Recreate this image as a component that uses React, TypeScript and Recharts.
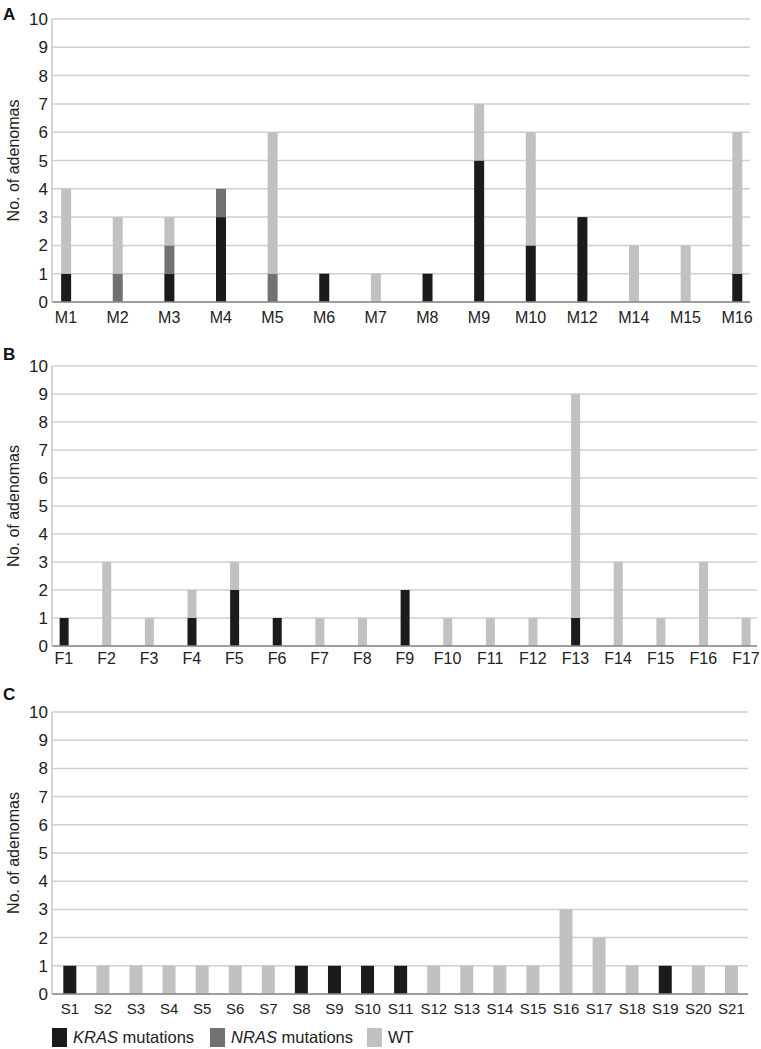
import { BarChart, Bar, XAxis, YAxis, CartesianGrid, Legend } from "recharts";

// panel A – male patients
const MALE_IDS = ["M1", "M2", "M3", "M4", "M5", "M6", "M7", "M8", "M9", "M10", "M12", "M14", "M15", "M16"];
const MALE_KRAS = [1, 0, 1, 3, 0, 1, 0, 1, 5, 2, 3, 0, 0, 1];
const MALE_NRAS = [0, 1, 1, 1, 1, 0, 0, 0, 0, 0, 0, 0, 0, 0];
const MALE_WT = [3, 2, 1, 0, 5, 0, 1, 0, 2, 4, 0, 2, 2, 5];

// panel B – female patients
const FEMALE_IDS = ["F1", "F2", "F3", "F4", "F5", "F6", "F7", "F8", "F9", "F10", "F11", "F12", "F13", "F14", "F15", "F16", "F17"];
const FEMALE_KRAS = [1, 0, 0, 1, 2, 1, 0, 0, 2, 0, 0, 0, 1, 0, 0, 0, 0];
const FEMALE_NRAS = [0, 0, 0, 0, 0, 0, 0, 0, 0, 0, 0, 0, 0, 0, 0, 0, 0];
const FEMALE_WT = [0, 3, 1, 1, 1, 0, 1, 1, 0, 1, 1, 1, 8, 3, 1, 3, 1];

// panel C – sporadic
const SPORADIC_IDS = ["S1", "S2", "S3", "S4", "S5", "S6", "S7", "S8", "S9", "S10", "S11", "S12", "S13", "S14", "S15", "S16", "S17", "S18", "S19", "S20", "S21"];
const SPORADIC_KRAS = [1, 0, 0, 0, 0, 0, 0, 1, 1, 1, 1, 0, 0, 0, 0, 0, 0, 0, 1, 0, 0];
const SPORADIC_NRAS = [0, 0, 0, 0, 0, 0, 0, 0, 0, 0, 0, 0, 0, 0, 0, 0, 0, 0, 0, 0, 0];
const SPORADIC_WT = [0, 1, 1, 1, 1, 1, 1, 0, 0, 0, 0, 1, 1, 1, 1, 3, 2, 1, 0, 1, 1];

const Y_TICKS = [0, 1, 2, 3, 4, 5, 6, 7, 8, 9, 10];

const SERIES = [
  { key: "kras", gene: "KRAS", suffix: " mutations", color: "#1b1b1b" },
  { key: "nras", gene: "NRAS", suffix: " mutations", color: "#717171" },
  { key: "wt", gene: "", suffix: "WT", color: "#c1c1c1" },
];

const FONT = "'Liberation Sans', Arial, Helvetica, sans-serif";
const TEXT = "#222";

function rows(ids: string[], kras: number[], nras: number[], wt: number[]) {
  return ids.map((id, i) => ({ x: i, id, kras: kras[i], nras: nras[i], wt: wt[i] }));
}

function LegendContent() {
  return (
    <div style={{ height: 27, display: "flex", alignItems: "flex-start", paddingTop: 6, boxSizing: "border-box" }}>
      {SERIES.map((s, i) => (
        <div key={s.key} style={{ display: "flex", alignItems: "center", marginRight: i === 0 ? 16 : 14 }}>
          <span style={{ display: "inline-block", width: 15, height: 19, background: s.color, marginRight: 6 }} />
          <span style={{ fontSize: 16.5, color: TEXT, fontFamily: FONT, whiteSpace: "nowrap" }}>
            {s.gene && <i>{s.gene}</i>}
            {s.suffix}
          </span>
        </div>
      ))}
    </div>
  );
}

interface PanelProps {
  letter: string;
  top: number;
  height: number;
  marginTop: number;
  marginRight: number;
  domain: [number, number];
  barSize: number;
  labelGap: number;
  labelSize: number;
  ids: string[];
  data: ReturnType<typeof rows>;
  legend?: boolean;
}

function Panel(p: PanelProps) {
  const ticks = p.ids.map((_, i) => i);
  return (
    <div style={{ position: "absolute", left: 0, top: p.top }}>
      <div
        style={{
          position: "absolute",
          left: 3,
          top: 6,
          fontSize: 17,
          lineHeight: "17px",
          fontWeight: "bold",
          fontFamily: FONT,
          color: "#111",
        }}
      >
        {p.letter}
      </div>
      <BarChart
        width={761}
        height={p.height}
        data={p.data}
        margin={{ top: p.marginTop, right: p.marginRight, bottom: 0, left: 0 }}
        style={{ fontFamily: FONT }}
      >
        <CartesianGrid vertical={false} stroke="#cfcfcf" strokeWidth={1.5} />
        <XAxis
          dataKey="x"
          type="number"
          domain={p.domain}
          ticks={ticks}
          interval={0}
          allowDataOverflow
          tickFormatter={(v: number) => p.ids[v] ?? ""}
          tickLine={false}
          tickSize={0}
          tickMargin={p.labelGap}
          height={28}
          axisLine={{ stroke: "#8a8a8a", strokeWidth: 1.5 }}
          tick={{ fontSize: p.labelSize, fill: TEXT }}
        />
        <YAxis
          domain={[0, 10]}
          ticks={Y_TICKS}
          interval={0}
          width={52}
          tickLine={false}
          tickSize={0}
          tickMargin={4}
          axisLine={{ stroke: "#c8c8c8", strokeWidth: 1.5 }}
          tick={{ fontSize: 17, fill: TEXT }}
          label={{
            value: "No. of adenomas",
            angle: -90,
            position: "insideLeft",
            offset: 13,
            style: { textAnchor: "middle", fontSize: 16, fill: TEXT },
          }}
        />
        {SERIES.map((s) => (
          <Bar
            key={s.key}
            dataKey={s.key}
            name={s.gene + s.suffix}
            stackId="a"
            fill={s.color}
            barSize={p.barSize}
            isAnimationActive={false}
          />
        ))}
        {p.legend && (
          <Legend
            verticalAlign="bottom"
            align="left"
            height={27}
            wrapperStyle={{ left: 52 }}
            content={() => <LegendContent />}
          />
        )}
      </BarChart>
    </div>
  );
}

export default function App() {
  return (
    <div style={{ position: "absolute", left: 0, top: 0, width: 761, height: 1049, background: "#fff" }}>
      <Panel
        letter="A"
        top={0}
        height={330}
        marginTop={19}
        marginRight={11}
        domain={[-0.27, 13.25]}
        barSize={10}
        labelGap={10}
        labelSize={16}
        ids={MALE_IDS}
        data={rows(MALE_IDS, MALE_KRAS, MALE_NRAS, MALE_WT)}
      />
      <Panel
        letter="B"
        top={340}
        height={334}
        marginTop={26}
        marginRight={4}
        domain={[-0.28, 16.26]}
        barSize={9}
        labelGap={7}
        labelSize={16}
        ids={FEMALE_IDS}
        data={rows(FEMALE_IDS, FEMALE_KRAS, FEMALE_NRAS, FEMALE_WT)}
      />
      <Panel
        letter="C"
        top={680}
        height={369}
        marginTop={32}
        marginRight={13}
        domain={[-0.54, 20.5]}
        barSize={13}
        labelGap={9}
        labelSize={15}
        ids={SPORADIC_IDS}
        data={rows(SPORADIC_IDS, SPORADIC_KRAS, SPORADIC_NRAS, SPORADIC_WT)}
        legend
      />
    </div>
  );
}
